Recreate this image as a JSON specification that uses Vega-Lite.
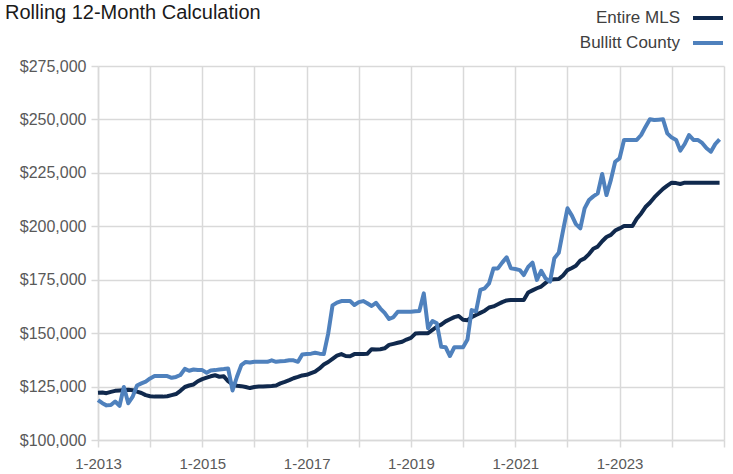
{
  "$schema": "https://vega.github.io/schema/vega-lite/v6.json",
  "width": 626,
  "height": 374,
  "autosize": "none",
  "padding": {"left": 98, "top": 66, "right": 9, "bottom": 34},
  "background": "white",
  "title": {
    "text": "Rolling 12-Month Calculation",
    "anchor": "start",
    "frame": "group",
    "font": "Liberation Sans",
    "fontSize": 20,
    "fontWeight": "normal",
    "color": "#1a1a1a",
    "baseline": "alphabetic",
    "offset": 0,
    "dx": -93,
    "dy": 38
  },
  "config": {
    "view": {"stroke": null},
    "axis": {
      "gridColor": "#d9d9d9",
      "gridWidth": 1.5,
      "domainColor": "#d9d9d9",
      "domainWidth": 1.5,
      "tickColor": "#d9d9d9",
      "tickWidth": 1.5,
      "tickSize": 7,
      "labelColor": "#595959",
      "labelFont": "Liberation Sans",
      "title": null
    }
  },
  "data": {
    "values": [
      {"date": "2013/01/01", "Entire MLS": 122100, "Bullitt County": 118700},
      {"date": "2013/02/01", "Entire MLS": 122200, "Bullitt County": 117200},
      {"date": "2013/03/01", "Entire MLS": 121900, "Bullitt County": 116200},
      {"date": "2013/04/01", "Entire MLS": 122500, "Bullitt County": 116400},
      {"date": "2013/05/01", "Entire MLS": 123000, "Bullitt County": 118000},
      {"date": "2013/06/01", "Entire MLS": 123200, "Bullitt County": 116000},
      {"date": "2013/07/01", "Entire MLS": 123400, "Bullitt County": 124800},
      {"date": "2013/08/01", "Entire MLS": 123500, "Bullitt County": 117200},
      {"date": "2013/09/01", "Entire MLS": 123300, "Bullitt County": 120300},
      {"date": "2013/10/01", "Entire MLS": 122600, "Bullitt County": 125500},
      {"date": "2013/11/01", "Entire MLS": 122000, "Bullitt County": 126500},
      {"date": "2013/12/01", "Entire MLS": 121000, "Bullitt County": 127300},
      {"date": "2014/01/01", "Entire MLS": 120500, "Bullitt County": 128800},
      {"date": "2014/02/01", "Entire MLS": 120300, "Bullitt County": 129900},
      {"date": "2014/03/01", "Entire MLS": 120300, "Bullitt County": 129900},
      {"date": "2014/04/01", "Entire MLS": 120300, "Bullitt County": 129900},
      {"date": "2014/05/01", "Entire MLS": 120500, "Bullitt County": 129900},
      {"date": "2014/06/01", "Entire MLS": 121000, "Bullitt County": 129100},
      {"date": "2014/07/01", "Entire MLS": 121500, "Bullitt County": 129500},
      {"date": "2014/08/01", "Entire MLS": 123000, "Bullitt County": 130400},
      {"date": "2014/09/01", "Entire MLS": 124800, "Bullitt County": 133300},
      {"date": "2014/10/01", "Entire MLS": 125500, "Bullitt County": 132400},
      {"date": "2014/11/01", "Entire MLS": 126000, "Bullitt County": 133000},
      {"date": "2014/12/01", "Entire MLS": 127500, "Bullitt County": 132800},
      {"date": "2015/01/01", "Entire MLS": 128500, "Bullitt County": 132700},
      {"date": "2015/02/01", "Entire MLS": 129200, "Bullitt County": 131500},
      {"date": "2015/03/01", "Entire MLS": 129800, "Bullitt County": 132500},
      {"date": "2015/04/01", "Entire MLS": 130300, "Bullitt County": 132700},
      {"date": "2015/05/01", "Entire MLS": 129600, "Bullitt County": 133000},
      {"date": "2015/06/01", "Entire MLS": 129800, "Bullitt County": 133200},
      {"date": "2015/07/01", "Entire MLS": 127500, "Bullitt County": 133500},
      {"date": "2015/08/01", "Entire MLS": 126000, "Bullitt County": 123200},
      {"date": "2015/09/01", "Entire MLS": 125400, "Bullitt County": 129600},
      {"date": "2015/10/01", "Entire MLS": 125200, "Bullitt County": 135000},
      {"date": "2015/11/01", "Entire MLS": 124800, "Bullitt County": 136500},
      {"date": "2015/12/01", "Entire MLS": 124300, "Bullitt County": 136300},
      {"date": "2016/01/01", "Entire MLS": 124800, "Bullitt County": 136600},
      {"date": "2016/02/01", "Entire MLS": 125000, "Bullitt County": 136600},
      {"date": "2016/03/01", "Entire MLS": 125000, "Bullitt County": 136600},
      {"date": "2016/04/01", "Entire MLS": 125200, "Bullitt County": 136600},
      {"date": "2016/05/01", "Entire MLS": 125300, "Bullitt County": 137300},
      {"date": "2016/06/01", "Entire MLS": 125500, "Bullitt County": 136600},
      {"date": "2016/07/01", "Entire MLS": 126500, "Bullitt County": 136800},
      {"date": "2016/08/01", "Entire MLS": 127200, "Bullitt County": 137000},
      {"date": "2016/09/01", "Entire MLS": 128000, "Bullitt County": 137300},
      {"date": "2016/10/01", "Entire MLS": 128900, "Bullitt County": 137300},
      {"date": "2016/11/01", "Entire MLS": 129500, "Bullitt County": 136600},
      {"date": "2016/12/01", "Entire MLS": 130200, "Bullitt County": 140000},
      {"date": "2017/01/01", "Entire MLS": 130500, "Bullitt County": 140200},
      {"date": "2017/02/01", "Entire MLS": 131300, "Bullitt County": 140400},
      {"date": "2017/03/01", "Entire MLS": 132000, "Bullitt County": 140800},
      {"date": "2017/04/01", "Entire MLS": 133500, "Bullitt County": 140400},
      {"date": "2017/05/01", "Entire MLS": 135300, "Bullitt County": 140200},
      {"date": "2017/06/01", "Entire MLS": 136500, "Bullitt County": 149900},
      {"date": "2017/07/01", "Entire MLS": 138000, "Bullitt County": 163000},
      {"date": "2017/08/01", "Entire MLS": 139500, "Bullitt County": 164300},
      {"date": "2017/09/01", "Entire MLS": 140200, "Bullitt County": 165000},
      {"date": "2017/10/01", "Entire MLS": 139300, "Bullitt County": 165000},
      {"date": "2017/11/01", "Entire MLS": 139200, "Bullitt County": 165000},
      {"date": "2017/12/01", "Entire MLS": 140200, "Bullitt County": 163200},
      {"date": "2018/01/01", "Entire MLS": 140200, "Bullitt County": 164500},
      {"date": "2018/02/01", "Entire MLS": 140200, "Bullitt County": 165000},
      {"date": "2018/03/01", "Entire MLS": 140300, "Bullitt County": 164000},
      {"date": "2018/04/01", "Entire MLS": 142500, "Bullitt County": 162700},
      {"date": "2018/05/01", "Entire MLS": 142300, "Bullitt County": 164200},
      {"date": "2018/06/01", "Entire MLS": 142500, "Bullitt County": 161500},
      {"date": "2018/07/01", "Entire MLS": 142900, "Bullitt County": 159500},
      {"date": "2018/08/01", "Entire MLS": 144500, "Bullitt County": 156600},
      {"date": "2018/09/01", "Entire MLS": 145000, "Bullitt County": 157500},
      {"date": "2018/10/01", "Entire MLS": 145500, "Bullitt County": 160000},
      {"date": "2018/11/01", "Entire MLS": 146000, "Bullitt County": 160000},
      {"date": "2018/12/01", "Entire MLS": 147000, "Bullitt County": 160000},
      {"date": "2019/01/01", "Entire MLS": 147800, "Bullitt County": 160000},
      {"date": "2019/02/01", "Entire MLS": 149800, "Bullitt County": 160200},
      {"date": "2019/03/01", "Entire MLS": 150000, "Bullitt County": 160400},
      {"date": "2019/04/01", "Entire MLS": 150000, "Bullitt County": 168600},
      {"date": "2019/05/01", "Entire MLS": 150000, "Bullitt County": 152300},
      {"date": "2019/06/01", "Entire MLS": 151500, "Bullitt County": 155700},
      {"date": "2019/07/01", "Entire MLS": 153000, "Bullitt County": 154600},
      {"date": "2019/08/01", "Entire MLS": 154000, "Bullitt County": 143600},
      {"date": "2019/09/01", "Entire MLS": 155500, "Bullitt County": 143400},
      {"date": "2019/10/01", "Entire MLS": 156500, "Bullitt County": 139300},
      {"date": "2019/11/01", "Entire MLS": 157500, "Bullitt County": 143400},
      {"date": "2019/12/01", "Entire MLS": 158000, "Bullitt County": 143400},
      {"date": "2020/01/01", "Entire MLS": 156300, "Bullitt County": 143400},
      {"date": "2020/02/01", "Entire MLS": 156000, "Bullitt County": 147000},
      {"date": "2020/03/01", "Entire MLS": 157500, "Bullitt County": 160800},
      {"date": "2020/04/01", "Entire MLS": 158500, "Bullitt County": 160200},
      {"date": "2020/05/01", "Entire MLS": 159500, "Bullitt County": 170200},
      {"date": "2020/06/01", "Entire MLS": 160500, "Bullitt County": 171000},
      {"date": "2020/07/01", "Entire MLS": 162000, "Bullitt County": 173300},
      {"date": "2020/08/01", "Entire MLS": 162500, "Bullitt County": 180300},
      {"date": "2020/09/01", "Entire MLS": 163500, "Bullitt County": 180300},
      {"date": "2020/10/01", "Entire MLS": 164500, "Bullitt County": 183000},
      {"date": "2020/11/01", "Entire MLS": 165300, "Bullitt County": 185500},
      {"date": "2020/12/01", "Entire MLS": 165500, "Bullitt County": 180300},
      {"date": "2021/01/01", "Entire MLS": 165500, "Bullitt County": 180000},
      {"date": "2021/02/01", "Entire MLS": 165500, "Bullitt County": 179500},
      {"date": "2021/03/01", "Entire MLS": 165500, "Bullitt County": 177200},
      {"date": "2021/04/01", "Entire MLS": 169000, "Bullitt County": 181000},
      {"date": "2021/05/01", "Entire MLS": 170000, "Bullitt County": 183000},
      {"date": "2021/06/01", "Entire MLS": 171000, "Bullitt County": 174900},
      {"date": "2021/07/01", "Entire MLS": 171800, "Bullitt County": 179200},
      {"date": "2021/08/01", "Entire MLS": 173500, "Bullitt County": 175600},
      {"date": "2021/09/01", "Entire MLS": 175000, "Bullitt County": 174100},
      {"date": "2021/10/01", "Entire MLS": 175200, "Bullitt County": 185000},
      {"date": "2021/11/01", "Entire MLS": 175300, "Bullitt County": 187600},
      {"date": "2021/12/01", "Entire MLS": 177000, "Bullitt County": 198000},
      {"date": "2022/01/01", "Entire MLS": 179500, "Bullitt County": 208400},
      {"date": "2022/02/01", "Entire MLS": 180500, "Bullitt County": 205000},
      {"date": "2022/03/01", "Entire MLS": 181500, "Bullitt County": 201000},
      {"date": "2022/04/01", "Entire MLS": 184000, "Bullitt County": 199000},
      {"date": "2022/05/01", "Entire MLS": 185000, "Bullitt County": 208400},
      {"date": "2022/06/01", "Entire MLS": 187000, "Bullitt County": 212300},
      {"date": "2022/07/01", "Entire MLS": 189500, "Bullitt County": 214000},
      {"date": "2022/08/01", "Entire MLS": 190500, "Bullitt County": 215400},
      {"date": "2022/09/01", "Entire MLS": 193000, "Bullitt County": 224500},
      {"date": "2022/10/01", "Entire MLS": 195000, "Bullitt County": 214600},
      {"date": "2022/11/01", "Entire MLS": 196000, "Bullitt County": 221700},
      {"date": "2022/12/01", "Entire MLS": 198000, "Bullitt County": 230200},
      {"date": "2023/01/01", "Entire MLS": 199000, "Bullitt County": 231800},
      {"date": "2023/02/01", "Entire MLS": 200100, "Bullitt County": 240400},
      {"date": "2023/03/01", "Entire MLS": 200100, "Bullitt County": 240400},
      {"date": "2023/04/01", "Entire MLS": 200100, "Bullitt County": 240400},
      {"date": "2023/05/01", "Entire MLS": 203500, "Bullitt County": 240400},
      {"date": "2023/06/01", "Entire MLS": 206000, "Bullitt County": 242700},
      {"date": "2023/07/01", "Entire MLS": 209000, "Bullitt County": 246500},
      {"date": "2023/08/01", "Entire MLS": 211000, "Bullitt County": 250100},
      {"date": "2023/09/01", "Entire MLS": 213500, "Bullitt County": 249700},
      {"date": "2023/10/01", "Entire MLS": 215500, "Bullitt County": 249900},
      {"date": "2023/11/01", "Entire MLS": 217500, "Bullitt County": 250100},
      {"date": "2023/12/01", "Entire MLS": 219000, "Bullitt County": 243500},
      {"date": "2024/01/01", "Entire MLS": 220400, "Bullitt County": 241500},
      {"date": "2024/02/01", "Entire MLS": 220200, "Bullitt County": 240400},
      {"date": "2024/03/01", "Entire MLS": 219800, "Bullitt County": 235400},
      {"date": "2024/04/01", "Entire MLS": 220400, "Bullitt County": 238500},
      {"date": "2024/05/01", "Entire MLS": 220400, "Bullitt County": 242700},
      {"date": "2024/06/01", "Entire MLS": 220400, "Bullitt County": 240400},
      {"date": "2024/07/01", "Entire MLS": 220400, "Bullitt County": 240400},
      {"date": "2024/08/01", "Entire MLS": 220400, "Bullitt County": 239000},
      {"date": "2024/09/01", "Entire MLS": 220400, "Bullitt County": 236500},
      {"date": "2024/10/01", "Entire MLS": 220400, "Bullitt County": 234900},
      {"date": "2024/11/01", "Entire MLS": 220400, "Bullitt County": 238500},
      {"date": "2024/12/01", "Entire MLS": 220400, "Bullitt County": 240700}
    ]
  },
  "transform": [
    {"fold": ["Entire MLS", "Bullitt County"], "as": ["series", "value"]}
  ],
  "mark": {"type": "line", "strokeWidth": 4, "strokeJoin": "round", "strokeCap": "butt"},
  "encoding": {
    "x": {
      "field": "date",
      "type": "temporal",
      "scale": {"domain": [{"year": 2013, "month": 1, "date": 1}, {"year": 2025, "month": 1, "date": 1}]},
      "axis": {
        "tickCount": {"interval": "year", "step": 1},
        "labelExpr": "year(datum.value) % 2 == 1 && year(datum.value) < 2025 ? timeFormat(datum.value, '%-m-%Y') : ''",
        "labelFontSize": 15,
        "labelPadding": 9,
        "labelFlush": false,
        "labelOverlap": false
      }
    },
    "y": {
      "field": "value",
      "type": "quantitative",
      "scale": {"domain": [100000, 275000], "nice": false, "zero": false},
      "axis": {
        "values": [100000, 125000, 150000, 175000, 200000, 225000, 250000, 275000],
        "format": "$,.0f",
        "labelFontSize": 16,
        "labelPadding": 5
      }
    },
    "color": {
      "field": "series",
      "type": "nominal",
      "scale": {"domain": ["Entire MLS", "Bullitt County"], "range": ["#10294d", "#4f81bd"]},
      "legend": {
        "title": null,
        "orient": "none",
        "legendX": 593,
        "legendY": -65,
        "direction": "vertical",
        "symbolType": "stroke",
        "symbolSize": 900,
        "symbolStrokeWidth": 4,
        "labelAlign": "right",
        "labelOffset": -45,
        "labelFont": "Liberation Sans",
        "labelFontSize": 17,
        "labelColor": "#404040",
        "labelLimit": 300,
        "rowPadding": -4,
        "padding": 0
      }
    }
  }
}
